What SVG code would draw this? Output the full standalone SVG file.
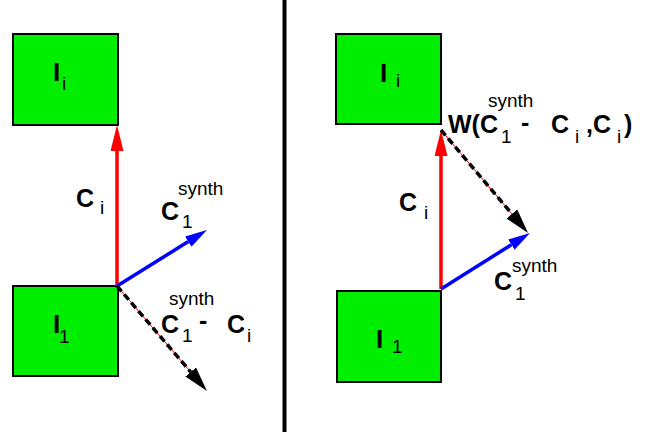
<svg xmlns="http://www.w3.org/2000/svg" width="650" height="436" viewBox="0 0 650 436">
<style>
.box{fill:#00ee00;stroke:#000;stroke-width:2}
.b{font-family:"Liberation Sans",Arial,sans-serif;font-weight:bold;font-size:25px;fill:#000}
.bl{font-family:"Liberation Sans",Arial,sans-serif;font-weight:bold;font-size:26px;fill:#000}
.s{font-family:"Liberation Sans",Arial,sans-serif;font-size:19px;fill:#000}
.red{stroke:#ff0000;stroke-width:3.5;fill:none}
.blue{stroke:#0000ff;stroke-width:3.5;fill:none}
.thin{stroke:#ff0000;stroke-width:1;fill:none}
.dash{stroke:#000;stroke-width:3.5;stroke-dasharray:7 4;fill:none}
</style>
<defs>
<marker id="hr" markerUnits="userSpaceOnUse" markerWidth="27" markerHeight="14" refX="0" refY="6.5" orient="auto"><path d="M0,0 L26,6.5 L0,13 z" fill="#ff0000"/></marker>
<marker id="hb" markerUnits="userSpaceOnUse" markerWidth="23" markerHeight="14" refX="0" refY="6" orient="auto"><path d="M0,0 L22,6 L0,12 z" fill="#0000ff"/></marker>
<marker id="hk" markerUnits="userSpaceOnUse" markerWidth="26" markerHeight="15" refX="0" refY="7" orient="auto"><path d="M0,0 L25,7 L0,14 z" fill="#000"/></marker>
</defs>
<line x1="284.5" y1="0" x2="284.5" y2="432" stroke="#000" stroke-width="4"/>
<g id="L_Ii"><rect class="box" x="13" y="34" width="105" height="91"/><text class="bl" x="53" y="81">I</text><text class="s" x="62" y="90">i</text></g>
<g id="L_I1"><rect class="box" x="13" y="286" width="105" height="90"/><text class="bl" x="53" y="333">I</text><text class="s" x="59" y="343">1</text></g>
<g id="R_Ii"><rect class="box" x="336" y="34" width="105" height="90"/><text class="bl" x="380" y="82">I</text><text class="s" x="396" y="87">i</text></g>
<g id="R_I1"><rect class="box" x="337" y="291" width="104" height="91"/><text class="bl" x="376" y="348">I</text><text class="s" x="392" y="353">1</text></g>
<g id="connectors">
<line class="red" x1="117" y1="286" x2="117" y2="151" marker-end="url(#hr)"/>
<line class="blue" x1="117" y1="286" x2="188.3" y2="241.6" marker-end="url(#hb)"/>
<line class="thin" x1="117" y1="286" x2="190.7" y2="372"/>
<line class="dash" x1="117" y1="286" x2="190.7" y2="372" marker-end="url(#hk)"/>
<line class="red" x1="441" y1="289" x2="441" y2="156" marker-end="url(#hr)"/>
<line class="thin" x1="441" y1="130" x2="511.9" y2="213.9"/>
<line class="dash" x1="441" y1="130" x2="511.9" y2="213.9" marker-end="url(#hk)"/>
<line class="blue" x1="441" y1="289" x2="511.4" y2="244.7" marker-end="url(#hb)"/>
</g>
<g id="labels">
<text class="b" x="76" y="207">C</text><text class="s" x="100" y="214">i</text>
<text class="b" x="161" y="220">C</text><text class="s" x="182" y="228">1</text><text class="s" x="178" y="195">synth</text>
<text class="s" x="169" y="305">synth</text><text class="b" x="161" y="333">C</text><text class="s" x="182" y="342">1</text><text class="b" x="199" y="329">-</text><text class="b" x="227" y="333">C</text><text class="s" x="247" y="342">i</text>
<text class="b" x="399" y="211">C</text><text class="s" x="424" y="219">i</text>
<text class="b" x="494" y="290">C</text><text class="s" x="512" y="272">synth</text><text class="s" x="515" y="300">1</text>
<text class="b" x="448" y="133">W(C</text><text class="s" x="488" y="107">synth</text><text class="s" x="501" y="143">1</text><text class="b" x="521" y="131">-</text><text class="b" x="551" y="133">C</text><text class="s" x="575" y="143">i</text><text class="b" x="586" y="133">,C</text><text class="s" x="617" y="143">i</text><text class="b" x="624" y="133">)</text>
</g>
</svg>
